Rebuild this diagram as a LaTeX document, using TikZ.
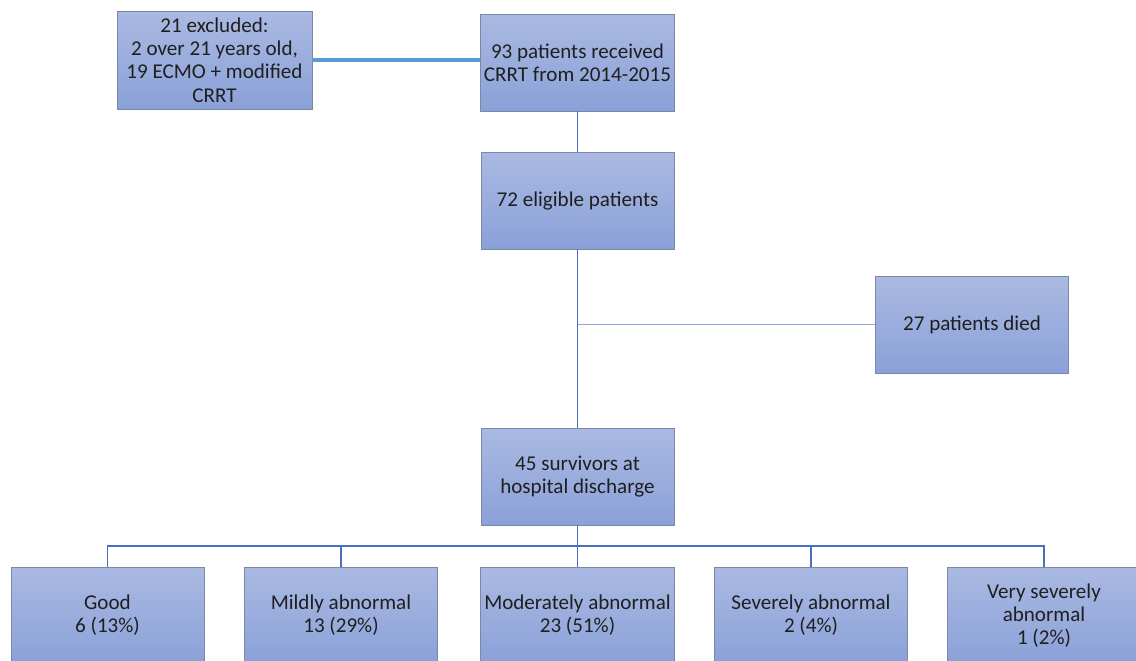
\documentclass[tikz,border=0pt]{standalone}
\usepackage{fontspec}
\setmainfont{Carlito}
\definecolor{boxtop}{HTML}{AAB9E2}
\definecolor{boxbot}{HTML}{8AA1D8}
\definecolor{boxedge}{HTML}{7A88A6}
\definecolor{linkblue}{HTML}{4A6EBE}
\definecolor{linklight}{HTML}{5B9BD5}
\definecolor{linkpale}{HTML}{8EAADC}
\begin{document}
\begin{tikzpicture}[x=0.02cm,y=-0.02cm,every node/.style={font=\fontsize{12}{13.2}\selectfont,text=black!88},
    box/.style={draw=boxedge,line width=0.5pt,top color=boxtop,bottom color=boxbot,minimum width=3.86cm,minimum height=1.94cm,align=center,inner sep=2pt},
    link/.style={draw=linkblue,line width=1.1pt}]

\useasboundingbox (0,0) rectangle (1136,660);
\clip (0,0) rectangle (1136,660);

        \node[box,minimum width=3.9cm,minimum height=1.96cm] (excl) at (214.5,60) {21 excluded:\\2 over 21 years old,\\19 ECMO + modified\\CRRT};
        \node[box] (recv) at (577.5,62.5) {93 patients received\\CRRT from 2014-2015};
        \node[box] (elig) at (577.5,200.5) {72 eligible patients};
        \node[box] (died) at (972,324.5) {27 patients died};
        \node[box] (surv) at (577.5,476.5) {45 survivors at\\hospital discharge};
        \node[box] (good) at (107.5,615.5) {Good\\6 (13\%)};
        \node[box] (mild) at (341,615.5) {Mildly abnormal\\13 (29\%)};
        \node[box] (mod) at (577.5,615.5) {Moderately abnormal\\23 (51\%)};
        \node[box] (sev) at (811,615.5) {Severely abnormal\\2 (4\%)};
        \node[box] (vsev) at (1044,615.5) {Very severely\\abnormal\\1 (2\%)};

        \coordinate (split) at (577.5,324.5);
        \coordinate (bus) at (577.5,546);

        \draw[draw=linklight,line width=2pt] (excl.east) -- (excl.east -| recv.west);
        \draw[link] (recv) -- (elig);
        \draw[link] (elig) -- (surv);
        \draw[draw=linkpale,line width=0.9pt] (split) -- (died.west);
        \draw[link] (surv.south) -- (bus);
        \draw[link] (good.north) |- (bus) -| (vsev.north);
        \draw[link] (mild.north) -- (mild.north |- bus);
        \draw[link] (bus) -- (mod.north);
        \draw[link] (sev.north) -- (sev.north |- bus);
\end{tikzpicture}
\end{document}
